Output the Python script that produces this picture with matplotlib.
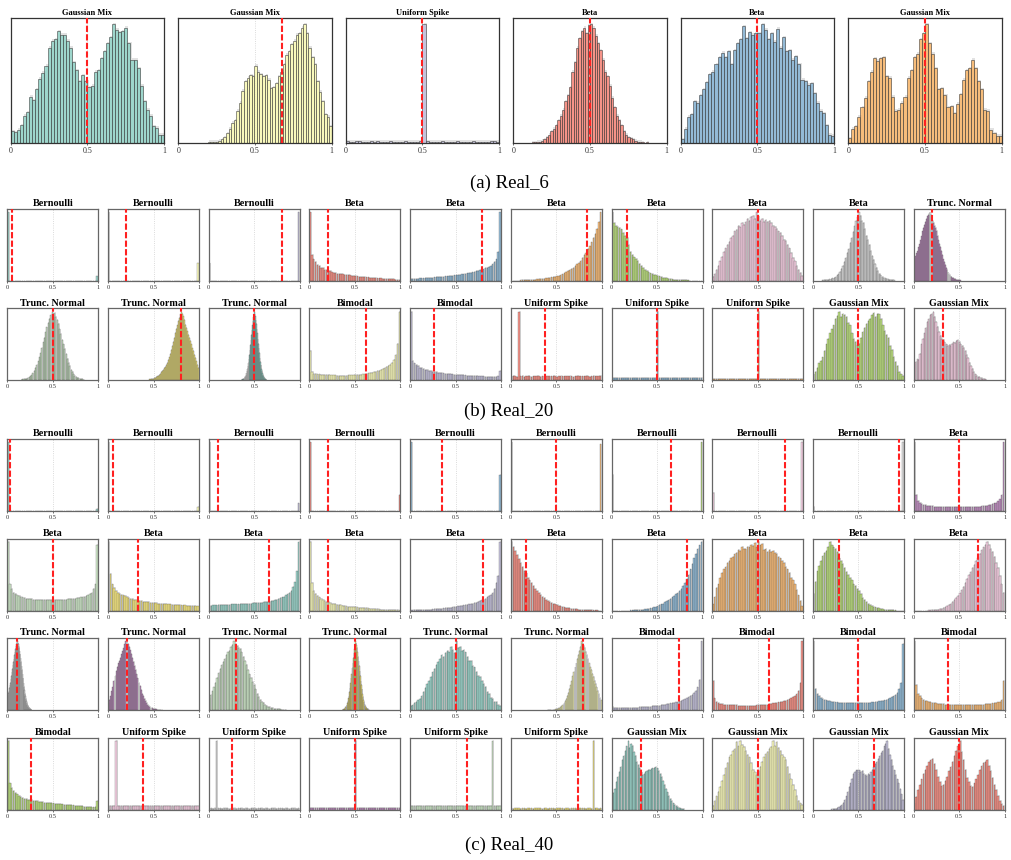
import numpy as np
import matplotlib
matplotlib.use("Agg")
import matplotlib.pyplot as plt
from matplotlib.colors import to_rgba

plt.rcParams['font.family'] = ['Liberation Serif', 'DejaVu Serif']

# =========================
# Data (bin heights, relative to tallest bin = 100)
# =========================

real6_titles = ['Gaussian Mix', 'Gaussian Mix', 'Uniform Spike', 'Beta', 'Beta', 'Gaussian Mix']
real6_means = [0.5, 0.675, 0.5, 0.5, 0.5, 0.5]
real6_ranges = [(0, 1), (0.16, 1), (0, 1), (0.12, 0.88), (0, 1), (0, 1)]
real6_counts = [
    [10, 9, 11, 15, 23, 26, 39, 36, 45, 54, 59, 65, 80, 86, 87, 94, 91, 91, 86, 80,
     68, 61, 52, 57, 52, 47, 48, 60, 61, 71, 77, 84, 89, 100, 95, 93, 94, 97, 84, 70,
     70, 63, 48, 35, 28, 23, 14, 13, 7, 7],
    [0, 0, 1, 1, 1, 1, 2, 3, 5, 8, 12, 17, 19, 27, 34, 44, 52, 55, 57, 56,
     65, 60, 58, 56, 57, 53, 46, 47, 50, 56, 60, 66, 74, 77, 83, 86, 91, 92, 97, 100,
     92, 80, 72, 66, 52, 43, 35, 24, 22, 14],
    [1.5, 1.2, 1.0, 1.3, 1.4, 1.1, 1.2, 1.0, 1.3, 1.2, 1.4, 1.1, 1.0, 1.2, 1.3, 1.1, 1.2, 1.0, 1.1, 1.3,
     1.2, 1.0, 1.1, 1.2, 1.3, 100, 1.4, 1.2, 1.1, 1.0, 1.2, 1.3, 1.1, 1.0, 1.2, 1.1, 1.3, 1.2, 1.0, 1.1,
     1.2, 1.3, 1.0, 1.1, 1.2, 1.0, 1.1, 1.3, 1.4, 1.2],
    [0.5, 0.5, 1, 1, 2, 3, 5, 7, 10, 12, 15, 19, 23, 28, 35, 40, 47, 60, 68, 80,
     88, 94, 97, 92, 99, 100, 97, 90, 84, 78, 70, 60, 56, 48, 38, 30, 23, 19, 15, 10,
     7, 5, 4, 3, 2, 1, 1, 0.5, 0, 0.5],
    [3, 12, 22, 24, 35, 34, 40, 45, 51, 58, 60, 66, 72, 76, 72, 77, 66, 78, 84, 87,
     98, 88, 93, 91, 92, 92, 100, 95, 87, 92, 85, 96, 80, 89, 77, 78, 70, 73, 66, 53,
     52, 49, 50, 42, 34, 27, 25, 15, 7, 6],
    [4, 12, 14, 22, 30, 38, 52, 60, 71, 69, 71, 72, 56, 55, 39, 27, 28, 34, 39, 55,
     61, 72, 75, 87, 92, 100, 84, 75, 63, 45, 46, 40, 30, 31, 25, 33, 41, 53, 61, 63,
     70, 63, 52, 45, 28, 27, 11, 8, 6, 6],
]

real20_titles = (['Bernoulli'] * 3 + ['Beta'] * 6 + ['Trunc. Normal'] * 4 + ['Bimodal'] * 2
                 + ['Uniform Spike'] * 3 + ['Gaussian Mix'] * 2)
real20_means = [0.055, 0.2, 0.8, 0.2, 0.79, 0.835, 0.165, 0.5, 0.5, 0.205,
                0.5, 0.8, 0.5, 0.62, 0.26, 0.38, 0.5, 0.5, 0.5, 0.325]
real20_ranges = ([(0, 1)] * 8 + [(0.1, 0.9), (0, 0.52), (0.15, 0.85), (0.45, 1.0), (0.36, 0.64)]
                 + [(0, 1)] * 6 + [(0, 0.8)])
real20_counts = [
    [100] + [0] * 48 + [6],
    [100] + [0] * 48 + [25],
    [25] + [0] * 48 + [100],
    [100, 38, 31, 27, 23, 21, 19, 18, 16, 15, 14, 13.5, 12, 11.5, 11, 10, 10, 9.5, 9, 8.5,
     8, 8, 7.5, 7, 6.5, 6.5, 6, 5.5, 5.5, 5, 4.8, 4.5, 4.5, 4, 4, 3.5, 3.5, 3.2, 3, 3,
     2.8, 2.5, 2.3, 2, 2, 1.8, 1.5, 1.3, 1.2, 1],
    [2, 2, 2, 2.5, 2.5, 3, 3, 3.2, 3.5, 3.5, 4, 4, 4.3, 4.5, 4.8, 5, 5, 5.5, 5.5, 6,
     6, 6.5, 6.8, 7, 7.5, 7.5, 8, 8.5, 9, 9.5, 10, 10.5, 11, 11.5, 12, 13, 13.5, 14, 15, 16,
     17, 18, 19, 20, 22, 24, 27, 31, 42, 100],
    [0, 0, 0, 0, 0, 0.3, 0.3, 0.5, 0.5, 0.8, 0.8, 1, 1, 1.2, 1.5, 1.8, 2, 2.3, 2.6, 3,
     3.5, 4, 4.5, 5, 5.5, 6, 7, 8, 9, 10.5, 12, 13.5, 15, 17, 19, 21, 23.5, 26, 29, 33,
     37, 41, 46, 50, 56, 62, 68, 76, 86, 100],
    [100, 85, 80, 79, 77, 75, 70, 65, 62, 52, 42, 38, 34, 32, 29, 24, 21, 18, 16, 14,
     12, 10.5, 9.5, 8.5, 7.5, 7, 6, 5, 4, 3.5, 3, 2.5, 2, 1.7, 1.4, 1.2, 1, 0.8, 0.6, 0.5,
     0.3, 0.2, 0.1, 0, 0, 0, 0, 0, 0, 0],
    [5, 10, 16, 22, 28, 35, 42, 47, 52, 57, 62, 66, 72, 74, 80, 78, 84, 82, 86, 90,
     88, 93, 95, 90, 100, 94, 88, 90, 86, 89, 86, 88, 84, 80, 79, 76, 72, 70, 66, 60,
     58, 52, 47, 40, 33, 28, 22, 16, 11, 7],
    [0.2, 0.3, 0.5, 0.7, 1, 1.5, 2, 3, 4, 5.5, 7.5, 10, 13, 17, 22, 27, 33, 40, 46, 55,
     62, 71, 80, 87, 93, 100, 95, 88, 84, 76, 66, 60, 52, 43, 36, 30, 24, 18, 14, 10,
     7.5, 5.5, 4, 3, 2, 1.5, 1, 0.6, 0.4, 0.2],
    [30, 33, 36, 40, 44, 49, 54, 60, 66, 72, 77, 82, 86, 90, 94, 96, 99, 100, 98, 92,
     88, 85, 80, 77, 73, 66, 60, 54, 49, 43, 37, 31, 27, 23, 19, 15, 12, 10, 8, 6,
     4.5, 3.5, 3, 2, 1.5, 1, 0.8, 0.5, 0.3, 0.2],
    [0.3, 0.5, 0.8, 1, 1.5, 2.5, 3.5, 5, 7, 9.5, 13, 17, 22, 27, 33, 40, 47, 55, 62, 70,
     77, 84, 90, 95, 100, 96, 98, 92, 88, 82, 74, 67, 59, 52, 45, 38, 31, 25, 20, 15,
     11, 8, 6, 4, 3, 2, 1.4, 1, 0.6, 0.3],
    [0.5, 0.7, 1, 1.3, 1.8, 2.5, 3, 4, 5, 6, 7.5, 9, 11, 12.5, 15, 17, 19, 22, 25, 29,
     33, 38, 44, 50, 56, 62, 69, 75, 80, 86, 91, 96, 100, 97, 93, 88, 81, 76, 71, 66,
     61, 57, 52, 46, 42, 37, 32, 27, 22, 18],
    [0.3, 0.5, 0.8, 1.2, 1.8, 2.6, 3.6, 5, 7, 9.5, 12.5, 16, 20, 25, 31, 37, 44, 51, 58, 66,
     73, 80, 87, 92, 96, 100, 97, 93, 88, 82, 75, 68, 60, 53, 46, 39, 32, 26, 21, 16.5,
     12.5, 9.5, 7, 5, 3.6, 2.5, 1.7, 1.1, 0.7, 0.4],
    [42, 11, 9, 8.5, 8, 8, 7.5, 7.5, 7, 7, 7, 6.5, 6.5, 6.5, 6.5, 6, 6, 6, 6, 6,
     6, 6.5, 6.5, 6.5, 7, 7, 7, 7.5, 7.5, 8, 8.5, 9, 9.5, 10, 10.5, 11, 12, 13, 13.5, 14.5,
     16, 17, 18.5, 20, 22, 25, 29, 37, 53, 100],
    [100, 28, 24, 22, 20, 18, 17, 16, 15, 14, 13, 12.5, 12, 11.5, 11, 10.5, 10, 10, 9.5, 9,
     9, 8.5, 8, 8, 7.5, 7.5, 7, 7, 7, 6.5, 6.5, 6, 6, 6, 5.5, 5.5, 5.5, 5, 5, 5,
     5, 4.5, 4.5, 4.5, 4, 4, 4, 4.5, 5, 13],
    [5, 5.5, 5, 4.5, 100, 5, 5.2, 4.8, 5, 5.3, 5, 4.7, 5, 5.1, 5.4, 5, 4.8, 5, 5.2, 5,
     4.9, 5.1, 5, 5.3, 5, 4.8, 5, 5.2, 5, 4.9, 5, 5.1, 5.3, 5, 4.8, 5, 5.2, 5, 4.9, 5.1,
     5, 5.2, 5, 4.8, 5, 5.3, 5.1, 5, 5.4, 5.6],
    [3, 3.2, 2.8, 3, 3.1, 3, 2.9, 3.2, 3, 3.1, 2.8, 3, 3.2, 3, 2.9, 3.1, 3, 3.2, 3, 2.8,
     3, 3.1, 3, 2.9, 3.1, 100, 3, 3.2, 3, 2.9, 3.1, 3, 2.8, 3, 3.2, 3, 3.1, 2.9, 3, 3.2,
     3, 2.8, 3.1, 3, 3.2, 3, 2.9, 3.1, 3, 3.2],
    [1.5, 1.6, 1.4, 1.5, 1.6, 1.5, 1.4, 1.6, 1.5, 1.5, 1.4, 1.5, 1.6, 1.5, 1.4, 1.6, 1.5, 1.6, 1.5, 1.4,
     1.5, 1.6, 1.5, 1.4, 1.6, 100, 1.5, 1.6, 1.5, 1.4, 1.6, 1.5, 1.4, 1.5, 1.6, 1.5, 1.6, 1.4, 1.5, 1.6,
     1.5, 1.4, 1.6, 1.5, 1.6, 1.5, 1.4, 1.6, 1.5, 1.6],
    [8, 12, 18, 24, 28, 33, 42, 52, 60, 68, 74, 80, 90, 94, 100, 92, 97, 95, 92, 84,
     80, 68, 60, 56, 51, 53, 62, 70, 76, 82, 86, 90, 95, 98, 92, 97, 96, 90, 80, 72,
     66, 62, 50, 44, 34, 26, 20, 12, 8, 6],
    [23, 26, 30, 29, 38, 52, 60, 68, 76, 85, 90, 95, 97, 100, 92, 85, 78, 70, 64, 60,
     58, 55, 52, 50, 51, 50, 53, 55, 54, 57, 58, 56, 52, 50, 47, 42, 36, 32, 25, 20,
     16, 12, 8, 6, 4.5, 3.5, 2.5, 1.5, 1, 0.5],
]

real40_titles = (['Bernoulli'] * 9 + ['Beta'] * 11 + ['Trunc. Normal'] * 6 + ['Bimodal'] * 5
                 + ['Uniform Spike'] * 5 + ['Gaussian Mix'] * 4)
real40_means = [0.03, 0.05, 0.1, 0.2, 0.35, 0.5, 0.65, 0.8, 0.95, 0.5,
                0.5, 0.33, 0.665, 0.2, 0.8, 0.165, 0.83, 0.5, 0.283, 0.71,
                0.11, 0.21, 0.305, 0.5, 0.5, 0.795, 0.745, 0.62, 0.5, 0.38,
                0.265, 0.38, 0.26, 0.5, 0.62, 0.74, 0.325, 0.5, 0.675, 0.5]
real40_ranges = ([(0, 1)] * 20 + [(0, 0.27), (0, 0.6), (0, 0.85), (0.36, 0.66), (0, 1), (0.4, 1.0)]
                 + [(0, 1)] * 10 + [(0, 0.8), (0, 1), (0.2, 1.0), (0, 1)])
real40_counts = [
    [100] + [0] * 48 + [2.5],
    [100] + [0] * 48 + [5.5],
    [100] + [0] * 48 + [11],
    [100] + [0] * 48 + [24],
    [100] + [0] * 48 + [53],
    [100] + [0] * 48 + [97],
    [53] + [0] * 48 + [100],
    [26] + [0] * 48 + [100],
    [5.5] + [0] * 48 + [100],
    [100, 24, 15, 12, 10, 9, 8.5, 8, 7.5, 7, 7, 6.5, 6.5, 6.5, 6, 6, 6, 6, 5.5, 5.5,
     6, 5.5, 5.5, 5.5, 5.5, 5.5, 5.5, 5.5, 6, 5.5, 6, 6, 6, 6, 6.5, 6.5, 6.5, 7, 7, 7.5,
     8, 8.5, 9, 10, 11, 12, 14, 17, 24, 100],
    [100, 38, 31, 26, 24, 22, 21, 20, 19, 18, 17.5, 17, 17, 16.5, 16, 16, 16, 15.5, 16, 15,
     15, 16, 15, 15.5, 15, 15.5, 15, 15.5, 15, 15.5, 16, 16, 16, 16.5, 16.5, 17, 17, 17.5, 18, 18,
     19, 19.5, 20, 21, 22, 24, 26, 31, 38, 96],
    [100, 53, 38, 33, 29, 26, 24.5, 23, 22, 21, 19.5, 18.5, 17.5, 16.5, 16, 15, 14.5, 14, 13.5, 13,
     12.5, 12.5, 12, 11.5, 11, 10.5, 10.5, 10, 10, 10, 9.5, 9.5, 9, 9, 9, 8.5, 8.5, 8, 8, 8,
     7.5, 7.5, 7.5, 7, 7, 7, 6.5, 6.5, 6, 6],
    [7, 7, 7.5, 7.5, 7.5, 8, 8, 8, 8, 8.5, 8.5, 8.5, 9, 9, 9, 9, 9, 9.5, 9.5, 9.5,
     10, 10, 10, 10, 10.5, 10.5, 10.5, 11, 11, 11.5, 12, 12, 12.5, 13, 13.5, 14, 15, 16, 17, 18,
     19, 20, 22, 24, 26, 29, 34, 41, 57, 100],
    [100, 40, 28, 24, 21, 19, 17, 15.5, 14, 13, 12, 11, 10, 9.5, 9, 8.5, 8, 7.5, 7, 6.5,
     6, 5.8, 5.5, 5.2, 5, 4.8, 4.5, 4.2, 4, 3.8, 3.5, 3.2, 3, 2.8, 2.5, 2.2, 2, 1.8, 1.6, 1.4,
     1.2, 1, 0.9, 0.8, 0.7, 0.6, 0.5, 0.4, 0.3, 0.2],
    [0.2, 0.3, 0.4, 0.5, 0.6, 0.7, 0.8, 0.9, 1, 1.1, 1.2, 1.4, 1.6, 1.8, 2, 2.2, 2.5, 2.8, 3, 3.3,
     3.6, 4, 4.3, 4.7, 5, 5.5, 6, 6.5, 7, 7.5, 8, 8.5, 9, 9.5, 10, 11, 11.5, 12.5, 13.5, 15,
     16, 17, 19, 21, 23, 26, 32, 40, 50, 100],
    [100, 93, 87, 81, 75, 70, 64, 58, 54, 48, 44, 40, 36, 32, 29, 26, 23, 20, 18, 15,
     14, 12.5, 11, 10, 9, 8, 7, 6, 5.5, 4.5, 4, 3.5, 3, 2.5, 2.2, 2, 1.6, 1.3, 1.1, 1,
     0.8, 0.6, 0.5, 0.4, 0.3, 0.2, 0.1, 0.1, 0, 0],
    [0, 0, 0, 0, 0, 0, 0, 0, 0, 0, 0.1, 0.2, 0.3, 0.4, 0.5, 0.7, 1, 1.2, 1.5, 2,
     2.5, 3, 3.5, 4.5, 5.5, 7, 8, 9, 10, 12, 14, 15.5, 17, 19, 21, 24, 26, 29, 32, 36,
     40, 46, 52, 60, 68, 76, 82, 90, 95, 100],
    [9, 20, 33, 38, 48, 55, 60, 63, 70, 72, 76, 78, 82, 84, 88, 87, 93, 90, 89, 93,
     92, 96, 94, 98, 93, 100, 95, 97, 88, 90, 86, 88, 85, 87, 84, 82, 78, 76, 72, 70,
     64, 60, 55, 48, 44, 38, 30, 22, 14, 6],
    [24, 42, 57, 65, 72, 80, 84, 87, 93, 100, 95, 92, 90, 86, 76, 72, 68, 62, 56, 52,
     47, 44, 38, 36, 31, 28, 24, 18, 15, 12, 10, 8, 7, 5.5, 4.5, 3.5, 3, 2.2, 1.6, 1.2,
     0.9, 0.6, 0.4, 0.3, 0.2, 0.1, 0, 0, 0, 0],
    [0, 0, 0, 0, 0, 0, 0, 0, 0.2, 0.3, 0.5, 0.7, 1, 1.4, 2, 2.6, 3.5, 4.5, 6, 8,
     10, 12, 15, 18, 21, 25, 30, 35, 40, 46, 52, 56, 62, 66, 72, 77, 82, 88, 92, 96,
     100, 96, 90, 85, 78, 70, 62, 50, 38, 26],
    [19, 22, 25, 28, 32, 36, 40, 45, 50, 55, 60, 65, 70, 75, 80, 85, 89, 93, 96, 99,
     100, 98, 96, 93, 90, 86, 81, 76, 70, 64, 58, 52, 46, 40, 34, 29, 24, 20, 16, 13,
     10, 8, 6, 4.5, 3.5, 2.5, 1.8, 1.2, 0.8, 0.5],
    [10, 15, 20, 27, 34, 42, 50, 57, 63, 68, 72, 76, 81, 86, 91, 96, 100, 99, 96, 92,
     87, 82, 76, 70, 64, 58, 52, 46, 40, 35, 29, 24, 20, 16, 13, 10, 8, 6, 4.5, 3.5,
     2.5, 2, 1.5, 1.1, 0.8, 0.6, 0.4, 0.3, 0.2, 0.1],
    [17, 22, 27, 33, 40, 47, 54, 60, 66, 70, 74, 80, 84, 86, 92, 95, 100, 96, 94, 90,
     89, 84, 78, 72, 66, 58, 52, 47, 41, 36, 30, 24, 19, 15, 12, 10, 8, 6, 5, 4,
     3, 2.5, 2, 1.6, 1.3, 1, 0.8, 0.6, 0.4, 0.2],
    [0.4, 0.6, 0.9, 1.3, 2, 2.8, 4, 5.5, 7.5, 10, 13, 17, 21, 26, 32, 39, 46, 53, 61, 68,
     76, 83, 89, 94, 100, 97, 95, 90, 84, 78, 71, 64, 57, 50, 43, 36, 30, 24, 19, 15,
     11.5, 8.5, 6.5, 4.5, 3.2, 2.2, 1.5, 1, 0.6, 0.3],
    [6, 8, 10, 12, 14, 16, 20, 26, 32, 38, 42, 48, 55, 60, 66, 70, 74, 80, 78, 83,
     86, 84, 92, 88, 83, 100, 90, 92, 86, 88, 84, 78, 71, 72, 64, 62, 56, 50, 48, 42,
     38, 34, 26, 24, 18, 16, 12, 12, 8, 6],
    [0.1, 0.1, 0.2, 0.3, 0.4, 0.5, 0.7, 0.9, 1.2, 1.7, 2.3, 3, 4, 5.5, 7.5, 10, 13, 16, 20, 25,
     31, 37, 43, 50, 56, 62, 68, 74, 80, 86, 92, 100, 97, 94, 90, 85, 80, 75, 68, 62,
     58, 53, 48, 43, 38, 33, 28, 23, 18, 14],
    [5, 3.5, 3, 3, 3, 3, 3, 3, 3, 3, 3.5, 3.5, 3.5, 3.5, 3.5, 4, 4, 4, 4.5, 4.5,
     5, 5, 5.5, 5.5, 6, 6.5, 6.5, 7, 7.5, 8, 8.5, 9, 9.5, 10, 10.5, 11, 12, 12.5, 13.5, 14.5,
     15.5, 17, 18.5, 20, 22, 25, 28, 33, 44, 100],
    [43, 17, 12, 10, 9, 8.5, 8, 8, 7.5, 7.5, 7, 7, 7, 7, 6.5, 6.5, 6.5, 6.5, 6.5, 6.5,
     6.5, 6.5, 6.5, 6.5, 7, 7, 7, 7.5, 7.5, 8, 8, 8.5, 9, 9.5, 10, 10.5, 11, 11.5, 12, 13,
     13.5, 14.5, 15.5, 17, 18.5, 20, 23, 28, 40, 100],
    [100, 31, 24, 20, 18, 16, 15, 14, 13, 12.5, 12, 11.5, 11, 11, 10.5, 10.5, 10, 10, 10, 10,
     10, 10, 10, 10, 10, 10, 10, 10, 10, 10, 10.5, 10.5, 11, 11, 11.5, 12, 12.5, 13, 13.5, 14,
     15, 16, 17, 18.5, 20, 22, 25, 31, 40, 96],
    [100, 36, 24, 20, 17, 15, 13.5, 12.5, 11.5, 11, 10.5, 10, 9.5, 9, 9, 8.5, 8.5, 8, 8, 7.5,
     7.5, 7.5, 7, 7, 7, 7, 7, 7, 7, 7, 7, 7, 7, 7.5, 7.5, 7.5, 8, 8, 8, 8.5,
     8.5, 9, 9, 9.5, 10, 10.5, 11, 12, 15, 43],
    [100, 38, 31, 27, 24, 22, 20, 18.5, 17, 16, 15, 14.5, 14, 13.5, 13, 12.5, 12, 11.5, 11, 10.5,
     10, 10, 9.5, 9.5, 9, 9, 8.5, 8, 8, 7.5, 7.5, 7, 7, 6.5, 6.5, 6, 6, 5.5, 5.5, 5,
     5, 4.5, 4, 4, 3.5, 3.5, 3, 3, 3.5, 12],
    [5, 5.3, 4.9, 5, 100, 5.2, 5, 4.8, 5.1, 5, 5.3, 5, 4.9, 5.2, 5, 4.8, 5, 5.1, 5.3, 5,
     4.9, 5, 5.2, 5, 4.8, 5.1, 5, 5.3, 5, 4.9, 5, 5.2, 5, 4.8, 5, 5.1, 5.3, 5, 4.9, 5.2,
     5, 4.8, 5, 5.1, 5, 5.2, 4.9, 5, 5.1, 5],
    [1.5, 1.6, 1.4, 1.5, 100, 1.5, 1.6, 1.4, 1.5, 1.6, 1.5, 1.4, 1.5, 1.6, 1.5, 1.4, 1.6, 1.5, 1.5, 1.4,
     1.6, 1.5, 1.4, 1.5, 1.6, 1.5, 1.4, 1.6, 1.5, 1.5, 1.4, 1.6, 1.5, 1.4, 1.5, 1.6, 1.5, 1.4, 1.6, 1.5,
     1.5, 1.4, 1.6, 1.5, 1.4, 1.5, 1.6, 1.5, 1.4, 1.5],
    [2.5, 2.7, 2.4, 2.5, 2.6, 2.4, 2.5, 2.7, 2.5, 2.4, 2.6, 2.5, 2.4, 2.7, 2.5, 2.6, 2.4, 2.5, 2.6, 2.5,
     2.4, 2.7, 2.5, 2.6, 2.4, 100, 2.5, 2.6, 2.4, 2.5, 2.7, 2.5, 2.4, 2.6, 2.5, 2.7, 2.4, 2.5, 2.6, 2.5,
     2.4, 2.6, 2.5, 2.7, 2.5, 2.4, 2.6, 2.5, 2.4, 2.6],
    [5, 5.2, 4.9, 5, 5.1, 5, 4.8, 5.2, 5, 5.1, 4.9, 5, 5.3, 5, 4.8, 5.1, 5, 5.2, 5, 4.9,
     5.1, 5, 4.8, 5.2, 5, 5.1, 4.9, 5, 5.2, 5, 4.8, 5, 5.1, 5.3, 5, 4.9, 5, 5.2, 5, 4.8,
     5, 5.1, 5, 4.9, 5.2, 100, 5, 5.1, 4.9, 5],
    [1.5, 1.4, 1.6, 1.5, 1.5, 1.4, 1.6, 1.5, 1.4, 1.5, 1.6, 1.5, 1.4, 1.5, 1.6, 1.5, 1.5, 1.4, 1.6, 1.5,
     1.4, 1.5, 1.6, 1.5, 1.4, 1.5, 1.6, 1.5, 1.5, 1.4, 1.6, 1.5, 1.4, 1.5, 1.6, 1.5, 1.4, 1.5, 1.6, 1.5,
     1.5, 1.4, 1.6, 1.5, 1.4, 100, 1.5, 1.6, 1.4, 1.5],
    [19, 24, 30, 40, 48, 55, 62, 72, 78, 85, 92, 100, 90, 96, 93, 84, 78, 70, 65, 60,
     54, 50, 52, 55, 56, 58, 57, 59, 60, 61, 62, 60, 56, 52, 47, 42, 36, 30, 25, 20,
     16, 12, 9, 7, 5, 3.5, 2.5, 1.5, 1, 0.5],
    [5, 12, 19, 26, 33, 42, 50, 61, 68, 76, 80, 86, 88, 98, 92, 100, 94, 91, 86, 80,
     76, 68, 58, 54, 51, 56, 62, 70, 76, 81, 84, 88, 91, 100, 92, 98, 90, 86, 80, 76,
     72, 62, 52, 44, 36, 28, 20, 12, 9, 7],
    [0.3, 0.5, 0.8, 1.2, 2, 3, 4.5, 7, 10, 14, 19, 26, 33, 39, 45, 52, 55, 57, 58, 57,
     55, 56, 52, 50, 49, 52, 50, 54, 58, 62, 66, 70, 74, 78, 82, 86, 92, 96, 100, 88,
     80, 72, 64, 57, 50, 44, 38, 30, 22, 14],
    [9, 18, 28, 36, 44, 52, 58, 64, 70, 72, 74, 66, 58, 48, 40, 35, 36, 42, 48, 56,
     62, 70, 78, 86, 92, 100, 84, 72, 58, 46, 40, 34, 33, 38, 44, 50, 58, 64, 68, 70,
     72, 64, 56, 46, 36, 28, 20, 12, 8, 5],
]

set3 = ['#8dd3c7', '#ffffb3', '#bebada', '#fb8072', '#80b1d3', '#fdb462',
        '#b3de69', '#fccde5', '#d9d9d9', '#bc80bd', '#ccebc5', '#ffed6f']

# =========================
# Figure
# =========================
W, H = 1011, 860
fig = plt.figure(figsize=(W / 100, H / 100), dpi=100)


def draw_panel(left, top, w, h, title, mean, rng, counts, color,
               title_size, tick_size, fill, edge, edge_lw, spine_color):
    ax = fig.add_axes([left / W, 1 - (top + h) / H, w / W, h / H])
    counts = np.asarray(counts, dtype=float)
    edges = np.linspace(rng[0], rng[1], len(counts) + 1)
    widths = np.diff(edges)
    peak = counts.max()

    # soft shadow behind the bars
    shadow = np.where(counts > 0, counts + peak * 0.012, 0)
    ax.bar(edges[:-1] + widths * 0.35, shadow, width=widths, align='edge',
           color='#a0a0a0', alpha=0.3, linewidth=0, zorder=1)
    ax.bar(edges[:-1], counts, width=widths * fill, align='edge',
           color=to_rgba(color, 0.8), edgecolor=edge, linewidth=edge_lw, zorder=2)

    ax.axvline(mean, color='#ff2020', lw=1.5, ls=(0, (3, 1.1)), zorder=3)

    ax.set_xlim(0, 1)
    ax.set_ylim(0, peak * 1.05)
    ax.set_xticks([0, 0.5, 1])
    ax.set_xticklabels(['0', '0.5', '1'])
    ax.set_yticks([])
    ax.tick_params(axis='x', labelsize=tick_size, length=1.5, width=0.5,
                   pad=1.5, colors='#333333')
    ax.xaxis.grid(True, ls=':', color='#cfcfcf', lw=0.6)
    ax.set_axisbelow(True)
    for s in ax.spines.values():
        s.set_color(spine_color)
        s.set_linewidth(0.9)
    ax.set_title(title, fontsize=title_size, fontweight='bold', pad=2)
    return ax


# (a) Real_6
for i in range(6):
    draw_panel(10.7 + i * 167.5, 18, 153.5, 125, real6_titles[i], real6_means[i],
               real6_ranges[i], real6_counts[i], set3[i % 12],
               6.0, 5.8, 1.0, (0.2, 0.2, 0.2, 0.75), 0.5, '#333333')
fig.text(509 / W, 1 - 183 / H, '(a) Real_6', ha='center', va='center', fontsize=13.5)

# (b) Real_20
b_tops = [209, 308.3]
for i in range(20):
    r, c = divmod(i, 10)
    draw_panel(7.3 + c * 100.7, b_tops[r], 91, 71.5, real20_titles[i], real20_means[i],
               real20_ranges[i], real20_counts[i], set3[i % 12],
               7.3, 4.6, 0.8, (0.2, 0.2, 0.2, 0.6), 0.3, '#666666')
fig.text(509 / W, 1 - 411 / H, '(b) Real_20', ha='center', va='center', fontsize=13.5)

# (c) Real_40
c_tops = [439, 538.5, 638, 737.5]
for i in range(40):
    r, c = divmod(i, 10)
    draw_panel(7.3 + c * 100.7, c_tops[r], 91, 72, real40_titles[i], real40_means[i],
               real40_ranges[i], real40_counts[i], set3[i % 12],
               7.3, 4.6, 0.8, (0.2, 0.2, 0.2, 0.6), 0.3, '#666666')
fig.text(509 / W, 1 - 845 / H, '(c) Real_40', ha='center', va='center', fontsize=13.5)

fig.savefig('out.png', dpi=100)
